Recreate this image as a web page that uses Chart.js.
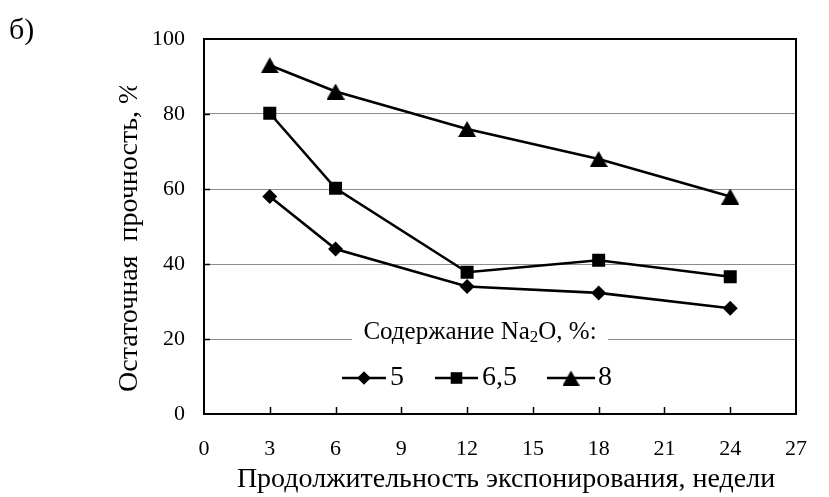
<!DOCTYPE html>
<html><head><meta charset="utf-8">
<script src="https://cdn.jsdelivr.net/npm/chart.js@4/dist/chart.umd.min.js"></script>
<style>html,body{margin:0;padding:0;background:#fff;}#wrap{width:829px;height:497px;position:relative;}</style>
</head><body><div id="wrap"><canvas id="c" width="829" height="497"></canvas></div>
<script>
// ---- data ----
const weeks = [3, 6, 12, 18, 24];
const na5 = [58, 44, 34, 32.3, 28.2];
const na65 = [80.2, 60.2, 37.8, 41, 36.6];
const na8 = [93, 86, 76, 68, 58];
const seriesLabels = ['5', '6,5', '8'];
const xTicks = [0, 3, 6, 9, 12, 15, 18, 21, 24, 27];
const yTicks = [0, 20, 40, 60, 80, 100];
const xTitle = 'Продолжительность экспонирования, недели';
const yTitle = 'Остаточная  прочность, %';
const legendTitle = ['Содержание Na', '2', 'O, %:'];
const panelLabel = 'б)';

const FONT = '"Liberation Serif", "Times New Roman", serif';
Chart.defaults.font.family = FONT;
Chart.defaults.font.size = 22;
Chart.defaults.color = '#000';

function triCanvas(w, h) {
  const c = document.createElement('canvas');
  c.width = w; c.height = h;
  const g = c.getContext('2d');
  g.fillStyle = '#000';
  g.beginPath(); g.moveTo(w / 2, 0); g.lineTo(w, h); g.lineTo(0, h); g.closePath(); g.fill();
  return c;
}
const triBig = triCanvas(18, 16);
const triSmall = triCanvas(17, 15);

const pts = (ys) => weeks.map((x, i) => ({ x: x, y: ys[i] }));
const base = { borderColor: '#000', backgroundColor: '#000', borderWidth: 2.6, pointBorderWidth: 0, tension: 0 };
const datasets = [
  Object.assign({}, base, { label: seriesLabels[0], data: pts(na5), pointStyle: 'rectRot', pointRadius: 7.5 }),
  Object.assign({}, base, { label: seriesLabels[1], data: pts(na65), pointStyle: 'rect', pointRadius: 9.2 }),
  Object.assign({}, base, { label: seriesLabels[2], data: pts(na8), pointStyle: triBig, pointRadius: 9 })
];

const framePlugin = {
  id: 'frame',
  beforeDatasetsDraw(chart) {
    const { ctx, chartArea: a, scales } = chart;
    ctx.save();
    ctx.fillStyle = '#fff';
    ctx.fillRect(352, 318, 256, 30);
    ctx.strokeStyle = '#000';
    ctx.lineWidth = 1.5;
    ctx.beginPath();
    xTicks.forEach(v => {
      if (v <= 0 || v >= 27) return;
      const x = Math.round(scales.x.getPixelForValue(v)) + 0.5;
      ctx.moveTo(x, a.bottom); ctx.lineTo(x, a.bottom - 7);
    });
    yTicks.forEach(v => {
      if (v <= 0 || v >= 100) return;
      const y = Math.round(scales.y.getPixelForValue(v)) + 0.5;
      ctx.moveTo(a.left, y); ctx.lineTo(a.left + 6, y);
    });
    ctx.stroke();
    ctx.lineWidth = 2;
    ctx.strokeRect(a.left, a.top, a.right - a.left, a.bottom - a.top);
    ctx.restore();
  },
  afterDraw(chart) {
    const { ctx } = chart;
    const H = Chart.helpers;
    ctx.save();
    ctx.fillStyle = '#000';
    ctx.textBaseline = 'middle';
    ctx.font = '30px ' + FONT;
    ctx.textAlign = 'left';
    ctx.fillText(panelLabel, 9, 31);
    ctx.font = '28px ' + FONT;
    ctx.textAlign = 'center';
    ctx.fillText(xTitle, 506, 480);
    ctx.save();
    ctx.beginPath(); ctx.rect(90, 86, 80, 320); ctx.clip();
    ctx.translate(130, 392);
    ctx.rotate(-Math.PI / 2);
    ctx.textAlign = 'left';
    ctx.font = '28px ' + FONT;
    ctx.fillText(yTitle, 0, 0);
    ctx.restore();
    // legend title with subscript
    ctx.textAlign = 'left';
    ctx.font = '25px ' + FONT;
    const w1 = ctx.measureText(legendTitle[0]).width;
    const w3 = ctx.measureText(legendTitle[2]).width;
    ctx.font = '17px ' + FONT;
    const w2 = ctx.measureText(legendTitle[1]).width;
    let lx = 480 - (w1 + w2 + w3) / 2;
    const ly = 332;
    ctx.font = '25px ' + FONT;
    ctx.fillText(legendTitle[0], lx, ly);
    ctx.font = '17px ' + FONT;
    ctx.fillText(legendTitle[1], lx + w1, ly + 6);
    ctx.font = '25px ' + FONT;
    ctx.fillText(legendTitle[2], lx + w1 + w2, ly);
    const items = [
      { x0: 342, x1: 386, tx: 390, style: 'rectRot', r: 6.8 },
      { x0: 435, x1: 478, tx: 482, style: 'rect', r: 8.2 },
      { x0: 547, x1: 595, tx: 598, style: triSmall, r: 8 }
    ];
    const iy = 378;
    items.forEach((it, i) => {
      ctx.strokeStyle = '#000';
      ctx.lineWidth = 2.6;
      ctx.beginPath(); ctx.moveTo(it.x0, iy); ctx.lineTo(it.x1, iy); ctx.stroke();
      ctx.fillStyle = '#000';
      H.drawPoint(ctx, { pointStyle: it.style, radius: it.r, rotation: 0, borderWidth: 0 }, (it.x0 + it.x1) / 2, iy);
      ctx.fillStyle = '#000';
      ctx.font = '28px ' + FONT;
      ctx.textAlign = 'left';
      ctx.textBaseline = 'middle';
      ctx.fillText(seriesLabels[i], it.tx, iy);
    });
    ctx.restore();
  }
};

new Chart(document.getElementById('c'), {
  type: 'line',
  data: { datasets: datasets },
  options: {
    responsive: false,
    animation: false,
    events: [],
    layout: { padding: { top: 39, right: 13, bottom: 0, left: 0 } },
    plugins: { legend: { display: false }, tooltip: { enabled: false }, title: { display: false } },
    scales: {
      x: {
        type: 'linear', min: 0, max: 27, offset: false,
        afterBuildTicks: s => { s.ticks = xTicks.map(v => ({ value: v })); },
        afterFit: s => { s.height = 83; },
        grid: { display: false, drawTicks: false },
        border: { display: false },
        ticks: { padding: 22, maxRotation: 0, autoSkip: false, font: { size: 22 }, color: '#000' }
      },
      y: {
        type: 'linear', min: 0, max: 100,
        afterBuildTicks: s => { s.ticks = yTicks.map(v => ({ value: v })); },
        afterFit: s => { s.width = 204; },
        grid: {
          drawTicks: false, lineWidth: 1,
          color: c => (c.tick && c.tick.value > 0 && c.tick.value < 100) ? '#8c8c8c' : 'rgba(0,0,0,0)'
        },
        border: { display: false },
        ticks: { padding: 19, autoSkip: false, font: { size: 22 }, color: '#000' }
      }
    }
  },
  plugins: [framePlugin]
});
</script>
</body></html>
